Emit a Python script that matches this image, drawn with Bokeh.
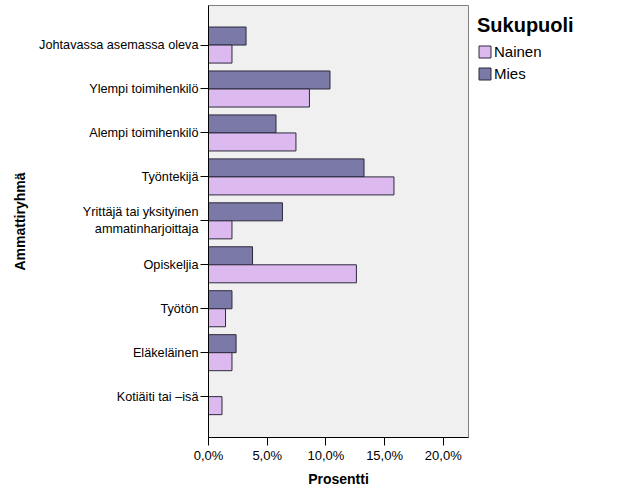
from bokeh.plotting import figure
from bokeh.models import (ColumnDataSource, Range1d, FixedTicker, Legend, LegendItem)
from bokeh.transform import dodge
from bokeh.embed import file_html
from bokeh.resources import INLINE

categories = [
    "Johtavassa asemassa oleva",
    "Ylempi toimihenkilö",
    "Alempi toimihenkilö",
    "Työntekijä",
    "Yrittäjä tai yksityinen\nammatinharjoittaja",
    "Opiskeljia",
    "Työtön",
    "Eläkeläinen",
    "Kotiäiti tai –isä",
]
mies = [3.2, 10.35, 5.75, 13.25, 6.3, 3.75, 2.0, 2.35, 0.0]
nainen = [2.0, 8.6, 7.45, 15.8, 2.0, 12.6, 1.45, 2.0, 1.15]
x_ticks = [0, 5, 10, 15, 20]
x_tick_labels = ["0,0%", "5,0%", "10,0%", "15,0%", "20,0%"]
series_names = ["Nainen", "Mies"]
legend_title = "Sukupuoli"
x_title = "Prosentti"
y_title = "Ammattiryhmä"

FONT = "Liberation Sans"
C_NAINEN = "#dcb9ef"
C_MIES = "#7b79a7"
C_EDGE = "#2c2a3c"

src = ColumnDataSource(dict(pos=list(range(len(categories))), mies=mies, nainen=nainen))

p = figure(width=626, height=501, output_backend="svg", toolbar_location=None,
           x_range=Range1d(0, 22.15), y_range=Range1d(8.93, -0.9),
           min_border_left=208, min_border_right=158, min_border_top=5, min_border_bottom=64,
           frame_width=260, frame_height=432)
p.background_fill_color = "#f0f0f0"
p.border_fill_color = "white"
p.outline_line_color = "#808080"
p.grid.visible = False

bh = 0.41
r_m = p.hbar(y=dodge("pos", -bh / 2, range=p.y_range), right="mies", left=0, height=bh, source=src,
             fill_color=C_MIES, line_color=C_EDGE, line_width=1)
r_n = p.hbar(y=dodge("pos", bh / 2, range=p.y_range), right="nainen", left=0, height=bh, source=src,
             fill_color=C_NAINEN, line_color=C_EDGE, line_width=1)

for ax in (p.xaxis[0], p.yaxis[0]):
    ax.minor_tick_line_color = None
    ax.major_tick_out = 8
    ax.major_tick_in = 0
    ax.axis_label_text_font = FONT
    ax.axis_label_text_font_style = "bold"
    ax.axis_label_text_font_size = "14px"
    ax.axis_label_text_color = "black"
    ax.major_label_text_font = FONT
    ax.major_label_text_color = "black"
    ax.axis_line_color = "black"
    ax.major_tick_line_color = "black"

xa = p.xaxis[0]
xa.ticker = FixedTicker(ticks=x_ticks)
xa.major_label_overrides = {t: l for t, l in zip(x_ticks, x_tick_labels)}
xa.major_label_standoff = 2
xa.axis_label = x_title
xa.axis_label_standoff = 5
xa.major_label_text_font_size = "13px"

ya = p.yaxis[0]
ya.ticker = FixedTicker(ticks=list(range(len(categories))))
ya.major_label_overrides = {i: c for i, c in enumerate(categories)}
ya.major_label_standoff = 2
ya.axis_label = y_title
ya.axis_label_standoff = 8
ya.major_label_text_font_size = "12.7px"

legend = Legend(items=[LegendItem(label=series_names[0], renderers=[r_n]),
                       LegendItem(label=series_names[1], renderers=[r_m])],
                location="top_left", padding=0, margin=9, spacing=5,
                glyph_width=15, glyph_height=15, label_height=15, label_standoff=2,
                label_text_font=FONT, label_text_font_size="15px", label_text_color="black",
                title=legend_title, title_text_font=FONT, title_text_font_style="bold",
                title_text_font_size="20px", title_text_color="black", title_standoff=6,
                background_fill_alpha=0, border_line_color=None)
p.add_layout(legend, "right")

open("out.html", "w").write(file_html(p, INLINE))
